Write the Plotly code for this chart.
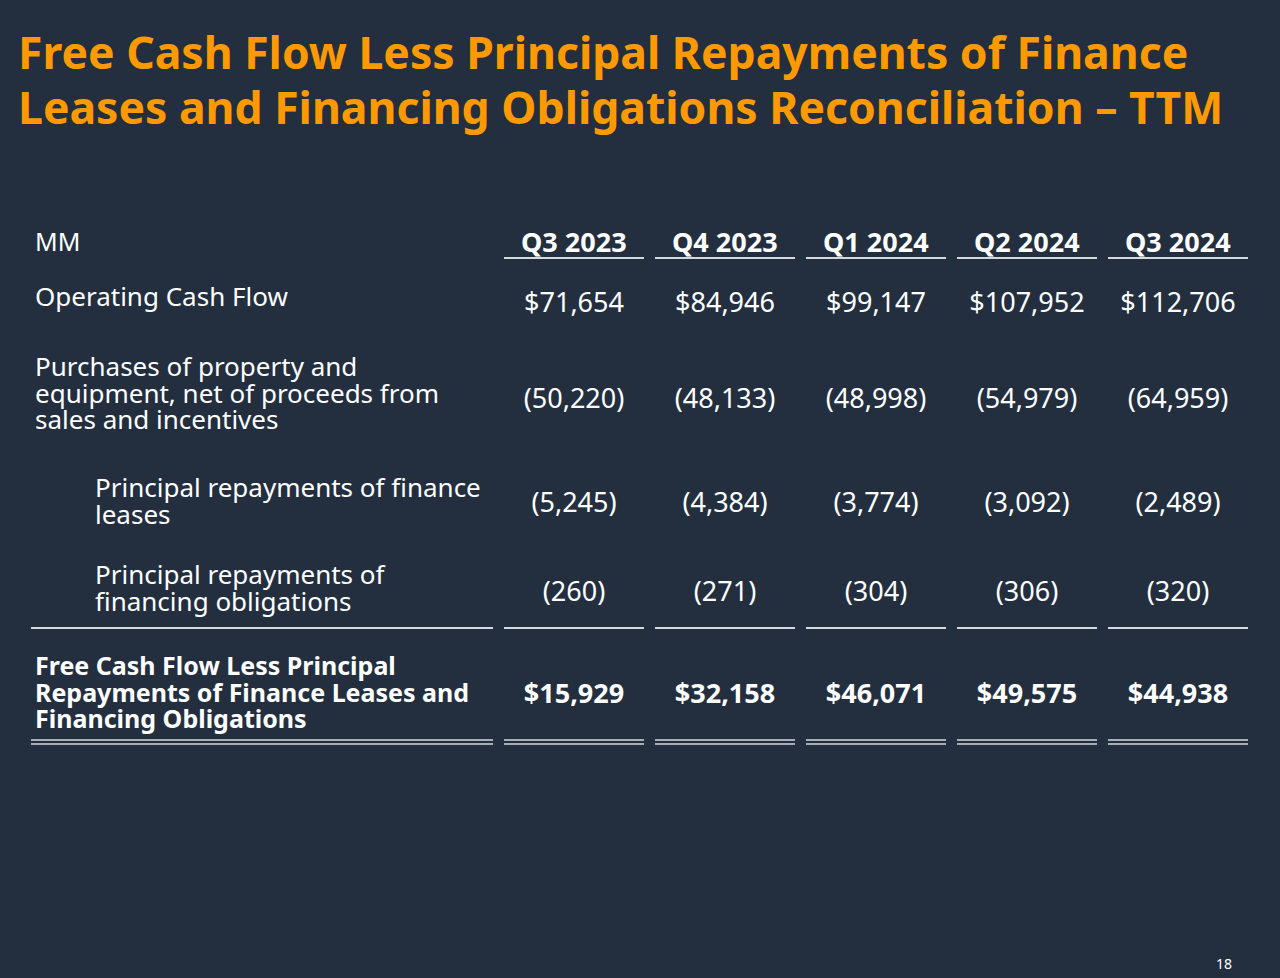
import plotly.graph_objects as go

# ---- data ----
quarters = ["Q3 2023", "Q4 2023", "Q1 2024", "Q2 2024", "Q3 2024"]
operating_cash_flow = [71654, 84946, 99147, 107952, 112706]
purchases_net = [-50220, -48133, -48998, -54979, -64959]
finance_lease_repayments = [-5245, -4384, -3774, -3092, -2489]
financing_obligation_repayments = [-260, -271, -304, -306, -320]
fcf_less_repayments = [15929, 32158, 46071, 49575, 44938]

title_lines = [
    "Free Cash Flow Less Principal Repayments of Finance",
    "Leases and Financing Obligations Reconciliation \u2013 TTM",
]
row_labels = [
    ["Operating Cash Flow"],
    ["Purchases of property and", "equipment, net of proceeds from", "sales and incentives"],
    ["Principal repayments of finance", "leases"],
    ["Principal repayments of", "financing obligations"],
    ["Free Cash Flow Less Principal", "Repayments of Finance Leases and", "Financing Obligations"],
]
row_values = [
    operating_cash_flow,
    purchases_net,
    finance_lease_repayments,
    financing_obligation_repayments,
    fcf_less_repayments,
]

# ---- layout constants (pixel space) ----
BG = "#232f3e"
ORANGE = "#ff9900"
WHITE = "#ffffff"
RULE = "#d5d9de"
FONT = "Noto Sans"

col_left = 504
col_width = 140
col_pitch = 151
col_centers = [col_left + col_width / 2 + i * col_pitch for i in range(len(quarters))]

label_x = [33, 33, 93, 93, 33]
label_mid = [296, 392.5, 500.5, 587.5, 691]
value_y = [305, 401, 505, 594, 696]
line_gap = 26.5           # tight line spacing of the wrapped labels
dollar_rows = [0, 4]
bold_rows = [4]


def fmt(v, dollar):
    s = f"{abs(v):,}"
    if v < 0:
        return f"({s})"
    return f"${s}" if dollar else s


fig = go.Figure()

# value cells
for r, vals in enumerate(row_values):
    bold = r in bold_rows
    fig.add_trace(go.Scatter(
        x=col_centers,
        y=[value_y[r]] * len(vals),
        text=[fmt(v, r in dollar_rows) for v in vals],
        mode="text",
        textposition="middle center",
        textfont=dict(family=FONT, size=27, color=WHITE,
                      weight="bold" if bold else "normal"),
        hoverinfo="skip",
        showlegend=False,
    ))

annotations = []

# title
for i, line in enumerate(title_lines):
    annotations.append(dict(
        x=16, y=51 + i * 55, text=f"<b>{line}</b>", xref="x", yref="y",
        xanchor="left", yanchor="middle", showarrow=False,
        font=dict(family=FONT, size=44.5, color=ORANGE),
    ))

# header
annotations.append(dict(
    x=33, y=241, text="MM", xref="x", yref="y", xanchor="left",
    yanchor="middle", showarrow=False,
    font=dict(family=FONT, size=25, color=WHITE),
))
for q, cx in zip(quarters, col_centers):
    annotations.append(dict(
        x=cx, y=241, text=f"<b>{q}</b>", xref="x", yref="y",
        xanchor="center", yanchor="middle", showarrow=False,
        font=dict(family=FONT, size=27, color=WHITE),
    ))

# row labels: base font sets the line pitch, inner span sets glyph size
for r, lines in enumerate(row_labels):
    bold = r in bold_rows
    size = 25 if bold else 26
    parts = []
    for line in lines:
        inner = f"<b>{line}</b>" if bold else line
        parts.append(f'<span style="font-size:{size}px">{inner}</span>')
    annotations.append(dict(
        x=label_x[r], y=label_mid[r], text="<br>".join(parts),
        xref="x", yref="y", xanchor="left", yanchor="middle",
        align="left", showarrow=False,
        font=dict(family=FONT, size=line_gap / 1.3, color=WHITE),
    ))

# page number
annotations.append(dict(
    x=1234, y=963, text="18", xref="x", yref="y", xanchor="right",
    yanchor="middle", showarrow=False,
    font=dict(family=FONT, size=14, color=WHITE),
))

# rules
shapes = []
col_spans = [(cx - col_width / 2, cx + col_width / 2) for cx in col_centers]
for x0, x1 in col_spans:
    shapes.append(dict(type="line", x0=x0, x1=x1, y0=258, y1=258,
                       xref="x", yref="y", line=dict(color=RULE, width=2)))
for x0, x1 in [(31, 493)] + col_spans:
    shapes.append(dict(type="line", x0=x0, x1=x1, y0=628, y1=628,
                       xref="x", yref="y", line=dict(color=RULE, width=2)))
    for yy in (740, 744):
        shapes.append(dict(type="line", x0=x0, x1=x1, y0=yy, y1=yy,
                           xref="x", yref="y", line=dict(color=RULE, width=1.6)))

fig.update_layout(
    width=1280,
    height=978,
    margin=dict(l=0, r=0, t=0, b=0),
    paper_bgcolor=BG,
    plot_bgcolor=BG,
    annotations=annotations,
    shapes=shapes,
)
fig.update_xaxes(range=[0, 1280], visible=False, fixedrange=True)
fig.update_yaxes(range=[978, 0], visible=False, fixedrange=True)

fig.write_html(
    "out.html",
    config={"displayModeBar": False},
    post_script="document.body.style.margin='0';"
                "document.body.style.background='#232f3e';",
)
